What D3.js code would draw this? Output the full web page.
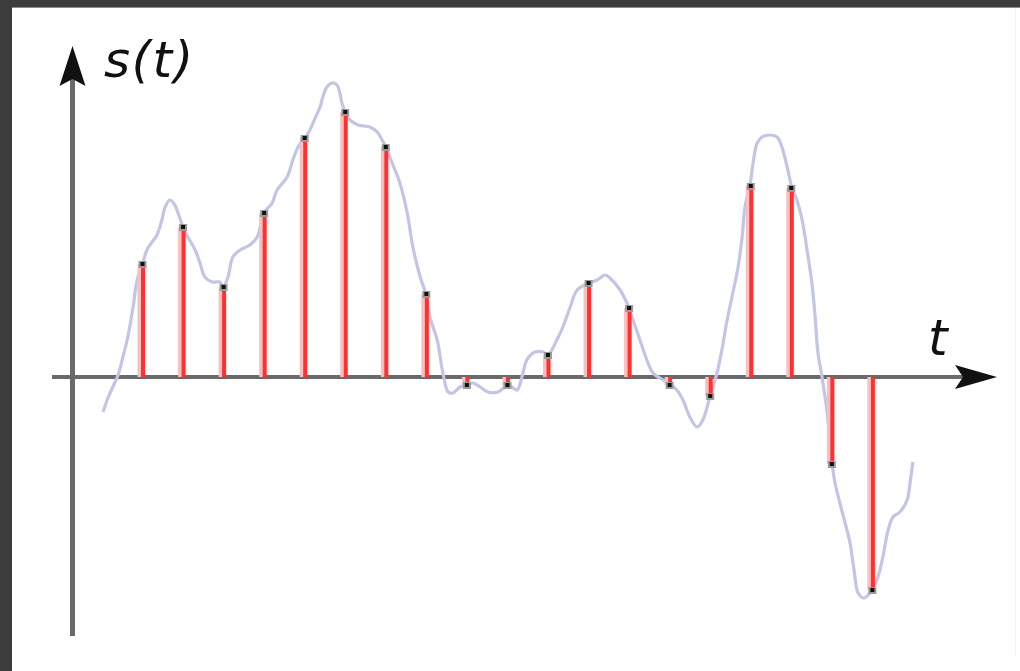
<!DOCTYPE html>
<html>
<head>
<meta charset="utf-8">
<script src="https://cdn.jsdelivr.net/npm/d3@7"></script>
<style>
  html, body { margin: 0; padding: 0; background: #3c3c3c; }
  svg { display: block; }
</style>
</head>
<body>
<script>
// Sample instants (in sampling periods) and sampled values s(t)
const sampleTimes = [1,2,3,4,5,6,7,8,9,10,11,12,13,14,15,16,17,18,19];
const sampleValues = [1.13,1.50,0.90,1.64,2.39,2.65,2.30,0.83,-0.08,-0.08,0.22,0.94,0.69,-0.08,-0.19,1.91,1.89,-0.87,-2.13];

// Continuous signal s(t)
const curveTimes = [0.04,0.16,0.28,0.41,0.53,0.65,0.78,0.88,1.02,1.12,1.25,1.37,1.49,1.57,1.69,1.81,1.89,2.01,2.13,2.31,2.43,2.55,2.73,2.92,3.00,3.12,3.24,3.42,3.66,3.84,4.01,4.21,4.33,4.58,4.72,4.85,5.02,5.14,5.27,5.39,5.46,5.56,5.69,5.81,5.88,5.93,6.01,6.13,6.33,6.62,6.80,6.92,7.02,7.12,7.24,7.36,7.54,7.68,7.86,8.00,8.10,8.28,8.42,8.55,8.67,8.84,9.01,9.16,9.34,9.53,9.78,10.03,10.25,10.37,10.49,10.69,10.89,11.01,11.23,11.38,11.56,11.73,12.02,12.22,12.42,12.54,12.79,13.01,13.11,13.28,13.45,13.60,13.77,14.02,14.19,14.34,14.51,14.69,14.83,15.01,15.18,15.30,15.43,15.57,15.70,15.80,15.87,15.99,16.07,16.17,16.29,16.49,16.66,16.78,16.91,17.03,17.15,17.28,17.40,17.52,17.60,17.67,17.77,17.89,17.97,18.02,18.09,18.21,18.34,18.46,18.56,18.66,18.81,19.00,19.15,19.27,19.40,19.52,19.69,19.87,19.94,20.01];
const curveValues = [-0.35,-0.21,-0.10,0.02,0.20,0.40,0.70,0.97,1.14,1.27,1.35,1.42,1.57,1.70,1.77,1.72,1.64,1.50,1.40,1.27,1.14,1.00,0.95,0.95,0.90,1.00,1.20,1.27,1.32,1.40,1.64,1.74,1.87,2.00,2.17,2.30,2.39,2.47,2.59,2.70,2.80,2.90,2.94,2.92,2.84,2.74,2.65,2.57,2.52,2.50,2.45,2.37,2.30,2.19,2.07,1.94,1.64,1.30,1.00,0.83,0.60,0.37,0.04,-0.15,-0.16,-0.10,-0.08,-0.06,-0.10,-0.15,-0.15,-0.08,-0.13,0.00,0.17,0.25,0.25,0.22,0.37,0.50,0.70,0.87,0.94,0.97,1.02,0.99,0.87,0.69,0.57,0.37,0.17,0.04,-0.01,-0.07,-0.13,-0.23,-0.40,-0.50,-0.43,-0.19,0.04,0.27,0.57,0.84,1.10,1.40,1.70,1.91,2.14,2.34,2.40,2.42,2.40,2.30,2.10,1.89,1.77,1.57,1.27,0.94,0.60,0.24,0.00,-0.33,-0.66,-0.87,-1.06,-1.26,-1.46,-1.66,-1.93,-2.16,-2.21,-2.13,-2.00,-1.80,-1.53,-1.40,-1.35,-1.23,-1.06,-0.85];

// Axis labels
const yLabel = "s(t)";
const xLabel = "t";

const W = 1020, H = 671;
const svg = d3.select("body").append("svg").attr("width", W).attr("height", H);

// frame
svg.append("rect").attr("x", 0).attr("y", 0).attr("width", W).attr("height", H).attr("fill", "#3c3c3c");
svg.append("rect").attr("x", 12).attr("y", 7).attr("width", W - 12).attr("height", 1).attr("fill", "#8c8c8c");
svg.append("rect").attr("x", 12).attr("y", 8).attr("width", W - 12).attr("height", H - 8).attr("fill", "#ffffff");
svg.append("line").attr("x1", 1015.5).attr("x2", 1015.5).attr("y1", 8).attr("y2", 655).attr("stroke", "#f3f3f3").attr("stroke-width", 1);

const x = d3.scaleLinear().domain([0, 20]).range([101.45, 912.45]);
const y = d3.scaleLinear().domain([-2.6, 3.0]).range([637, 77]);

const x0 = 72.5;          // vertical axis position
const y0 = y(0);          // horizontal axis position

// axes
const axisColor = "#6a6a6a";
svg.append("line").attr("x1", x0).attr("x2", x0).attr("y1", 636).attr("y2", 70)
  .attr("stroke", axisColor).attr("stroke-width", 5);
svg.append("line").attr("x1", 52).attr("x2", 965).attr("y1", y0).attr("y2", y0)
  .attr("stroke", axisColor).attr("stroke-width", 4);

// arrow heads
svg.append("path")
  .attr("d", `M${x0},46 L${x0 + 13},86 L${x0},79 L${x0 - 13},86 Z`)
  .attr("fill", "#111");
svg.append("path")
  .attr("d", `M997,${y0} L955,${y0 - 12} L963,${y0} L955,${y0 + 12} Z`)
  .attr("fill", "#111");

// continuous signal
const curve = curveTimes.map((t, i) => [t, curveValues[i]]);
svg.append("path")
  .datum(curve)
  .attr("d", d3.line().x(d => x(d[0])).y(d => y(d[1])).curve(d3.curveCatmullRom))
  .attr("fill", "none")
  .attr("stroke", "#c2c5e5")
  .attr("stroke-width", 3.2)
  .attr("stroke-linejoin", "round");

// sample stems
const samples = sampleTimes.map((t, i) => ({t, v: sampleValues[i]}));
const stems = svg.append("g");
stems.selectAll("rect.ghost").data(samples).join("rect")
  .attr("class", "ghost")
  .attr("x", d => x(d.t) - 4.5)
  .attr("width", 4)
  .attr("y", d => Math.min(y(d.v), y0))
  .attr("height", d => Math.abs(y(d.v) - y0))
  .attr("fill", "#ffbcbc");
stems.selectAll("rect.stem").data(samples).join("rect")
  .attr("class", "stem")
  .attr("x", d => x(d.t) - 1)
  .attr("width", 4)
  .attr("y", d => Math.min(y(d.v), y0))
  .attr("height", d => Math.abs(y(d.v) - y0))
  .attr("fill", "#ff3030");

// sample markers
const marks = svg.append("g");
marks.selectAll("rect.halo").data(samples).join("rect")
  .attr("class", "halo")
  .attr("x", d => x(d.t) - 3.5).attr("y", d => y(d.v) - 3)
  .attr("width", 8).attr("height", 7)
  .attr("fill", "#9a9a9a");
marks.selectAll("rect.dot").data(samples).join("rect")
  .attr("class", "dot")
  .attr("x", d => x(d.t) - 1.5).attr("y", d => y(d.v) - 2)
  .attr("width", 4).attr("height", 4)
  .attr("fill", "#111");

// labels
svg.append("text").attr("x", 104).attr("y", 77)
  .attr("font-family", "DejaVu Sans").attr("font-style", "italic")
  .attr("font-size", 50).attr("letter-spacing", 1.5).attr("fill", "#111")
  .text(yLabel);
svg.append("text").attr("x", 928).attr("y", 355)
  .attr("font-family", "DejaVu Sans").attr("font-style", "italic")
  .attr("font-size", 50).attr("fill", "#111")
  .text(xLabel);
</script>
</body>
</html>
